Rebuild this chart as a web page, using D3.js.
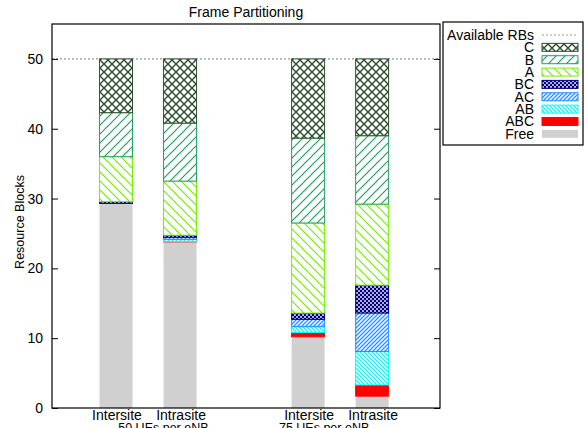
<!DOCTYPE html>
<html>
<head>
<meta charset="utf-8">
<script src="https://cdn.jsdelivr.net/npm/d3@7"></script>
<style>
  html, body { margin: 0; padding: 0; background: #fff; }
  svg { display: block; font-family: "Liberation Sans", Arial, sans-serif; }
</style>
</head>
<body>
<svg id="chart" width="585" height="428"></svg>
<script>
// ---- data ----
const categories = ["Intersite", "Intrasite", "Intersite", "Intrasite"];
const slots = [0, 1, 3, 4];
const groups = ["50 UEs per eNB", "75 UEs per eNB"];
const groupSlots = [0.74, 3.25];
const seriesNames = ["Free", "ABC", "AB", "AC", "BC", "A", "B", "C"];
const free = [29.3, 23.8, 10.2, 1.7];
const abc  = [0, 0.05, 0.6, 1.6];
const ab   = [0, 0.3, 0.85, 4.8];
const ac   = [0, 0.3, 1.05, 5.5];
const bc   = [0.25, 0.3, 0.9, 4.0];
const a    = [6.45, 7.75, 12.9, 11.6];
const b    = [6.3, 8.3, 12.15, 9.8];
const c    = [7.7, 9.2, 11.35, 11.0];
const availableRBs = 50;
const yTicks = [0, 10, 20, 30, 40, 50];
const legendOrder = ["C", "B", "A", "BC", "AC", "AB", "ABC", "Free"];

const seriesValues = { Free: free, ABC: abc, AB: ab, AC: ac, BC: bc, A: a, B: b, C: c };
const colors = { C: "#2c502c", B: "#20a060", A: "#70f000", BC: "#000080", AC: "#1e90ff", AB: "#00ffff", ABC: "#ff0000", Free: "#d0d0d0" };

// ---- layout ----
const svg = d3.select("#chart");
const pL = 52, pR = 440, pT = 24, pB = 408;

const y = d3.scaleLinear().domain([0, 55]).range([pB, pT]);
const x = d3.scaleLinear().domain([-1, 5.06]).range([pL, pR]);
const barW = x(0.515) - x(0);

// ---- patterns ----
const defs = svg.append("defs");
function linePattern(id, color, size, dir, sw, bg) {
  const p = defs.append("pattern").attr("id", id).attr("patternUnits", "userSpaceOnUse")
    .attr("width", size).attr("height", size);
  p.append("rect").attr("width", size).attr("height", size).attr("fill", bg || "#fff");
  const g = p.append("g").attr("stroke", color).attr("stroke-width", sw).attr("fill", "none");
  const s = size;
  if (dir === "/" || dir === "x") {
    g.append("path").attr("d", `M0,${s} L${s},0 M${-s / 2},${s / 2} L${s / 2},${-s / 2} M${s / 2},${s * 1.5} L${s * 1.5},${s / 2}`);
  }
  if (dir === "\\" || dir === "x") {
    g.append("path").attr("d", `M0,0 L${s},${s} M${-s / 2},${s / 2} L${s / 2},${s * 1.5} M${s / 2},${-s / 2} L${s * 1.5},${s / 2}`);
  }
}
linePattern("pC", colors.C, 8, "x", 1.4);
linePattern("pB", colors.B, 9, "/", 1.2);
linePattern("pA", colors.A, 9, "\\", 1.2);
linePattern("pAC", colors.AC, 4, "/", 1.3);
linePattern("pAB", colors.AB, 4, "\\", 1.3);
{
  const p = defs.append("pattern").attr("id", "pBC").attr("patternUnits", "userSpaceOnUse")
    .attr("width", 4).attr("height", 4);
  p.append("rect").attr("width", 4).attr("height", 4).attr("fill", colors.BC);
  p.append("circle").attr("cx", 1).attr("cy", 1).attr("r", 0.9).attr("fill", "#fff");
  p.append("circle").attr("cx", 3).attr("cy", 3).attr("r", 0.9).attr("fill", "#fff");
}
const fills = { C: "url(#pC)", B: "url(#pB)", A: "url(#pA)", BC: "url(#pBC)", AC: "url(#pAC)", AB: "url(#pAB)", ABC: colors.ABC, Free: colors.Free };

// ---- title ----
svg.append("text").attr("x", (pL + pR) / 2).attr("y", 17).attr("text-anchor", "middle")
  .attr("font-size", 14).text("Frame Partitioning");

// ---- available RBs line ----
svg.append("line").attr("x1", pL).attr("x2", pR).attr("y1", y(availableRBs)).attr("y2", y(availableRBs))
  .attr("stroke", "#999").attr("stroke-width", 1.2).attr("stroke-dasharray", "2,2");

// ---- bars ----
const stack = d3.stack().keys(seriesNames)(categories.map((cat, i) => {
  const o = { i };
  seriesNames.forEach(k => o[k] = seriesValues[k][i]);
  return o;
}));
stack.forEach(layer => {
  const k = layer.key;
  svg.append("g").selectAll("rect").data(layer.filter(d => d[1] - d[0] > 0)).join("rect")
    .attr("x", d => x(slots[d.data.i]) - barW / 2)
    .attr("width", barW)
    .attr("y", d => y(d[1]))
    .attr("height", d => y(d[0]) - y(d[1]))
    .attr("fill", fills[k])
    .attr("stroke", k === "Free" ? "none" : colors[k])
    .attr("stroke-width", 1);
});

// ---- frame & axes ----
svg.append("rect").attr("x", pL).attr("y", pT).attr("width", pR - pL).attr("height", pB - pT)
  .attr("fill", "none").attr("stroke", "#000").attr("stroke-width", 1.2);

const yAxis = svg.append("g").attr("transform", `translate(${pL},0)`)
  .call(d3.axisLeft(y).tickValues(yTicks).tickSize(-6).tickPadding(9));
yAxis.select(".domain").remove();
yAxis.selectAll("text").attr("font-size", 14).attr("font-family", "Liberation Sans, Arial, sans-serif").attr("fill", "#000");
yAxis.selectAll("line").attr("stroke", "#000");

const yAxisR = svg.append("g").attr("transform", `translate(${pR},0)`)
  .call(d3.axisRight(y).tickValues(yTicks).tickSize(-6).tickFormat(""));
yAxisR.select(".domain").remove();
yAxisR.selectAll("line").attr("stroke", "#000");

svg.append("text").attr("transform", `translate(24,${(pT + pB) / 2 + 6}) rotate(-90)`)
  .attr("text-anchor", "middle").attr("font-size", 12.5).text("Resource Blocks");

// x labels
svg.append("g").selectAll("text").data(categories).join("text")
  .attr("x", (d, i) => x(slots[i]) + 1).attr("y", 420).attr("text-anchor", "middle")
  .attr("font-size", 14).text(d => d);
svg.append("g").selectAll("text").data(groups).join("text")
  .attr("x", (d, i) => x(groupSlots[i])).attr("y", 432).attr("text-anchor", "middle")
  .attr("font-size", 12.5).text(d => d);

// ---- legend ----
const lg = svg.append("g");
lg.append("rect").attr("x", 443).attr("y", 22).attr("width", 140).attr("height", 123)
  .attr("fill", "#fff").attr("stroke", "#000").attr("stroke-width", 1.2);
const rowY = i => 35 + i * 12.35;
lg.append("text").attr("x", 534).attr("y", rowY(0) + 5).attr("text-anchor", "end").attr("font-size", 14).text("Available RBs");
lg.append("line").attr("x1", 542).attr("x2", 578).attr("y1", rowY(0)).attr("y2", rowY(0))
  .attr("stroke", "#999").attr("stroke-width", 1.2).attr("stroke-dasharray", "2,2");
legendOrder.forEach((k, j) => {
  const yy = rowY(j + 1);
  lg.append("text").attr("x", 534).attr("y", yy + 5).attr("text-anchor", "end").attr("font-size", 14).text(k);
  lg.append("rect").attr("x", 542).attr("y", yy - 4).attr("width", 36).attr("height", 8)
    .attr("fill", fills[k]).attr("stroke", k === "Free" ? "none" : colors[k]).attr("stroke-width", 1);
});
</script>
</body>
</html>
